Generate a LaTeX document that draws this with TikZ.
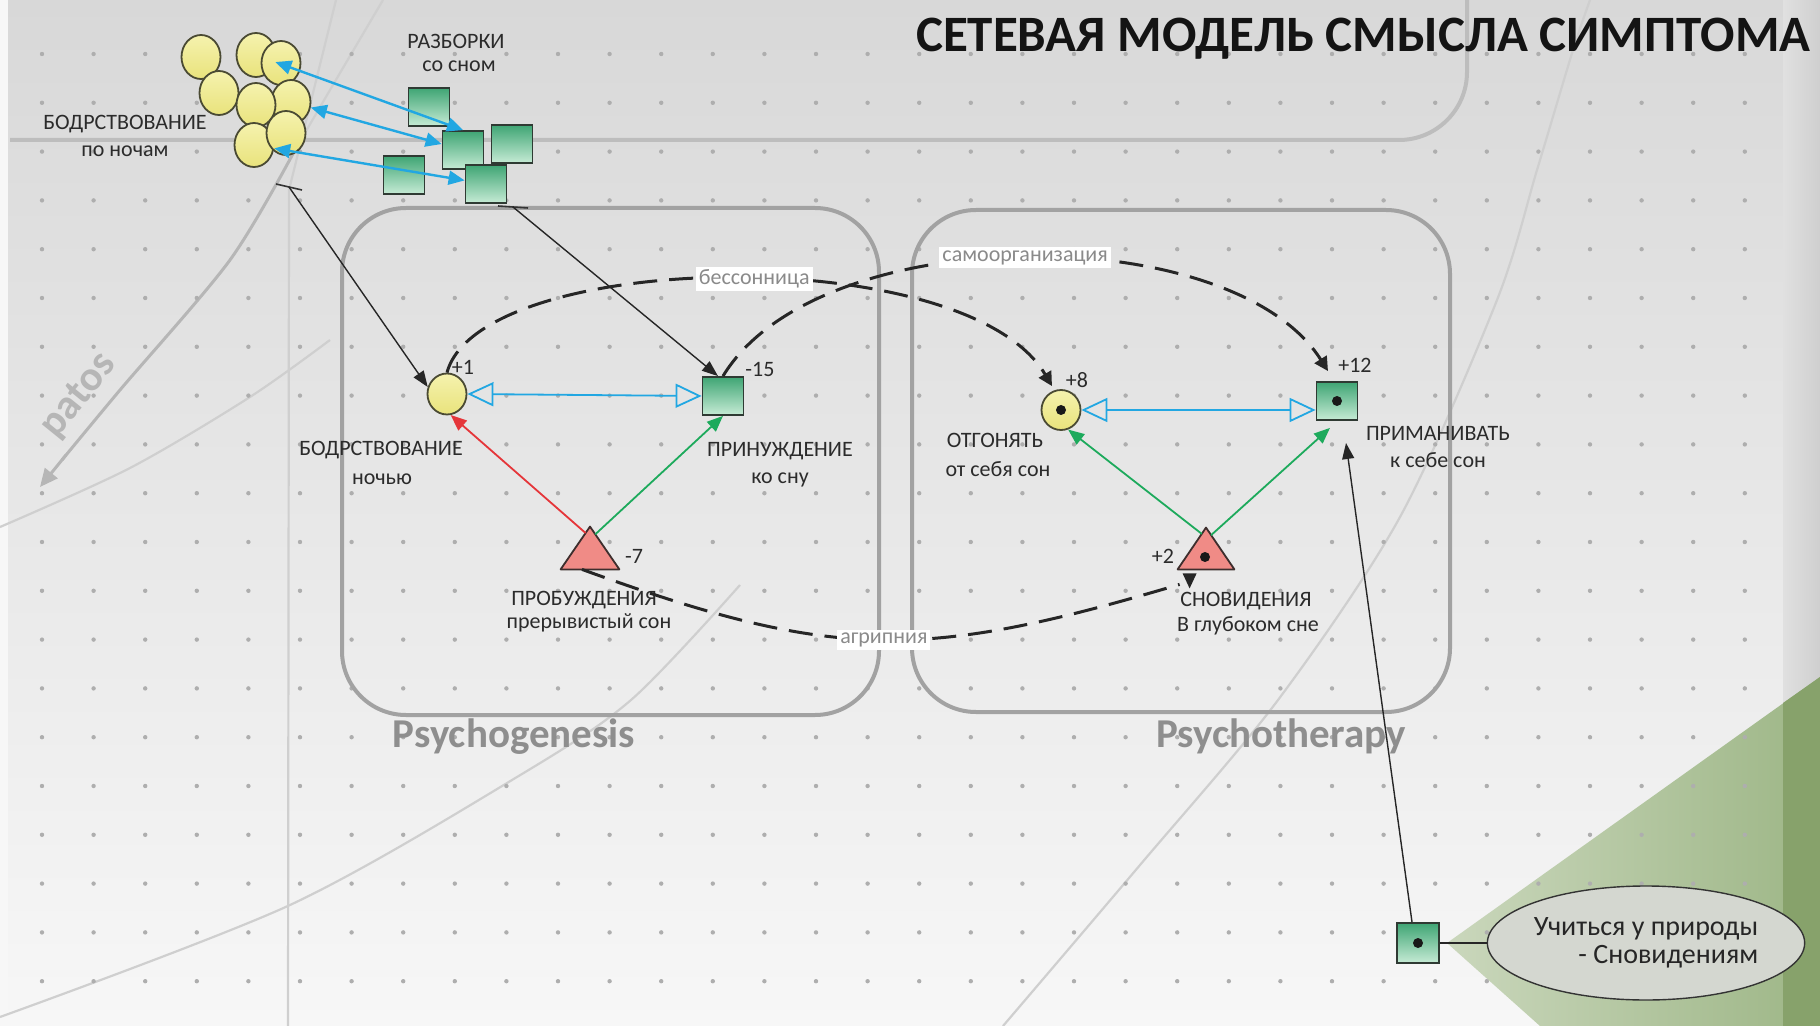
\documentclass[tikz,border=0pt]{standalone}
\usepackage{fontspec}
\setmainfont{Carlito}
\usetikzlibrary{arrows.meta,calc,shapes.geometric}
\definecolor{bgtop}{HTML}{D8D8D8}
\definecolor{bgmid}{HTML}{EBEBEB}
\definecolor{bgbot}{HTML}{F7F7F7}
\definecolor{dotc}{HTML}{AEAEAE}
\definecolor{faint}{HTML}{CFCFCF}
\definecolor{boxline}{HTML}{A2A2A2}
\definecolor{rectline}{HTML}{BDBDBD}
\definecolor{yelA}{HTML}{F5F2AE}
\definecolor{yelB}{HTML}{E9E37C}
\definecolor{circline}{HTML}{4A4A33}
\definecolor{grnA}{HTML}{3FA574}
\definecolor{grnB}{HTML}{C6EBD5}
\definecolor{sqline}{HTML}{2F3A33}
\definecolor{triF}{HTML}{F08B86}
\definecolor{triline}{HTML}{3E2E2D}
\definecolor{skyb}{HTML}{22A7E2}
\definecolor{redar}{HTML}{E5363A}
\definecolor{grnar}{HTML}{1DAA5C}
\definecolor{labc}{HTML}{2B2B2B}
\definecolor{dlab}{HTML}{8A8A8A}
\definecolor{psyc}{HTML}{8E8E8E}
\definecolor{grL}{HTML}{CAD7BC}
\definecolor{grR}{HTML}{9DB686}
\definecolor{grBand}{HTML}{87A26B}
\definecolor{bandL}{HTML}{E0E0E0}
\definecolor{bandR}{HTML}{CFCFCF}
\definecolor{ellF}{HTML}{D4D7D0}
\definecolor{patosc}{HTML}{B6B6B6}
\begin{document}
\begin{tikzpicture}[x=0.5pt,y=-0.5pt,
  lbl/.style={font=\fontsize{11}{12}\selectfont, text=labc, inner sep=0pt, anchor=base},
  ycirc/.style={ellipse, draw=circline, line width=0.9pt, top color=yelA, bottom color=yelB, minimum width=19.5pt, minimum height=21pt, inner sep=0pt},
  gsq/.style={rectangle, draw=sqline, line width=0.9pt, top color=grnA, bottom color=grnB, minimum width=20.5pt, minimum height=19pt, inner sep=0pt},
  trinode/.style={rectangle, inner sep=0pt, minimum width=29pt, minimum height=21pt},
  trishape/.style={draw=triline, line width=0.9pt, fill=triF, line join=round},
  cdot/.style={circle, fill=black!90, inner sep=0pt, minimum size=5pt},
  blkarrow/.style={draw=black!85, line width=0.7pt, -{Triangle[length=8pt,width=6pt]}},
  tickmark/.style={draw=black!80, line width=0.8pt},
  openarrow/.style={draw=skyb, line width=0.9pt, {Triangle[open,length=13pt,width=12pt]}-{Triangle[open,length=13pt,width=12pt]}},
  bluedbl/.style={draw=skyb, line width=1.2pt, {Triangle[length=8pt,width=7pt]}-{Triangle[length=8pt,width=7pt]}},
  redarrow/.style={draw=redar, line width=0.9pt, -{Triangle[length=8pt,width=6.5pt]}},
  grnarrow/.style={draw=grnar, line width=0.9pt, -{Triangle[length=8pt,width=6.5pt]}},
  dashbase/.style={draw=black!85, line width=1.5pt, dash pattern=on 12pt off 6pt},
  dashline/.style={dashbase, -{Triangle[length=7pt,width=7pt]}},
  dlabel/.style={fill=white, text=dlab, font=\fontsize{11}{12}\selectfont, inner sep=1.5pt},
  groupbox/.style={draw=boxline, line width=2pt, rounded corners=32pt, inner sep=0pt},
  grouplabel/.style={font=\bfseries\fontsize{20.5}{24}\selectfont, text=psyc, anchor=base, inner sep=0pt},
  faintline/.style={draw=faint, line width=1.1pt},
]
\useasboundingbox (0,0) rectangle (1820,1026);
% background
\shade[top color=bgtop, middle color=bgmid, bottom color=bgbot] (0,0) rectangle (1820,1026);
\fill[bgbot] (0,0) rectangle (8,1026);
\shade[left color=bandL, right color=bandR] (1783,0) rectangle (1820,703);
\shade[left color=grL, right color=grR] (1820,677) -- (1447,943) -- (1540,1026) -- (1820,1026) -- cycle;
\fill[grBand] (1783,703) -- (1820,677) -- (1820,1026) -- (1783,1026) -- cycle;
% faint decorative lines
\draw[faintline] plot[smooth] coordinates {(1590,0) (1573,50) (1537,170) (1497,300) (1400,517) (1278,700) (1140,865) (1003,1026)};
\draw[faintline] plot[smooth] coordinates {(0,1017) (290,905) (517,777) (631,700) (740,585)};
\draw[faintline] plot[smooth] coordinates {(0,527) (130,468) (250,397) (330,340)};
\draw[faintline] (336,0) -- (289,190) -- (288,1026);
\draw[faintline] plot[smooth] coordinates {(383,0) (330,90) (295,150)};
\draw[draw=patosc, line width=1.5pt] plot[smooth] coordinates {(295,150) (230,260) (120,390) (62,460)};
\draw[draw=patosc, line width=1.5pt, -{Triangle[length=9pt,width=8pt]}] (66,455) -- (40,487);
\node[rotate=51, font=\bfseries\fontsize{21}{24}\selectfont, text=patosc] (patos) at (79,396) {patos};
% dot grid
\foreach \i in {0,...,33}{\foreach \j in {0,...,19}{\fill[dotc] (42+51.6*\i,54+48.8*\j) circle[radius=1.1pt];}}
% frames
\draw[draw=rectline, line width=2pt, rounded corners=34pt] (10,140) -- (1467,140) -- (1467,-20);
\node[groupbox, minimum width=268.5pt, minimum height=253.5pt] (boxL) at (610.5,461.5) {};
\node[groupbox, minimum width=269pt, minimum height=251pt] (boxR) at (1181,461) {};
\node[grouplabel] (psyg) at (514,747) {Psychogenesis};
\node[grouplabel] (psyt) at (1281,747) {Psychotherapy};
% title
\node[anchor=base east, font=\bfseries\fontsize{25.5}{28}\selectfont, text=black!92, inner sep=0pt] (title) at (1811,52) {СЕТЕВАЯ МОДЕЛЬ СМЫСЛА СИМПТОМА};
% cluster
\foreach \n/\x/\y in {c1/201/57, c2/256/55, c3/281/63, c4/219/93, c6/291/102, c5/256/105, c7/254/145, c8/286/133}
  \node[ycirc, minimum height=22pt] (\n) at (\x,\y) {};
\foreach \n/\x/\y in {s1/429/107, s2/463/150, s3/512/144, s4/404/175, s5/486/184}
  \node[gsq, minimum height=19pt] (\n) at (\x,\y) {};
\node[lbl] (razb) at (456,49) {РАЗБОРКИ};
\node[lbl] (razb2) at (459,72) {со сном};
\node[lbl] (bodr1) at (125,130) {БОДРСТВОВАНИЕ};
\node[lbl] (bodr2) at (125,157) {по ночам};
\draw[bluedbl] (c2) -- (s2.north);
\draw[bluedbl] (c6) -- (s2);
\draw[bluedbl] (c7) -- (s5);
\coordinate (t1) at (289,187);
\coordinate (t2) at (513,207);
\draw[tickmark] ($(t1)+(-13,-3)$) -- ($(t1)+(13,3)$);
\draw[tickmark] ($(t2)+(-15,-1)$) -- ($(t2)+(15,1)$);
% main nodes
\node[ycirc, minimum height=20.5pt] (A) at (447,394) {};
\node[gsq] (B) at (723,396) {};
\node[trinode] (C) at (590,548) {};
\draw[trishape] (C.south west) -- (C.south east) -- (C.north) -- cycle;
\node[ycirc, minimum height=20pt] (D) at (1061,410) {};
\node[cdot] (Dd) at (D.center) {};
\node[gsq] (E) at (1337,401) {};
\node[cdot] (Ed) at (E.center) {};
\node[trinode, minimum width=28pt, minimum height=20.5pt] (F) at (1206,548.5) {};
\draw[trishape] (F.south west) -- (F.south east) -- (F.north) -- cycle;
\node[cdot] (Fd) at (1205,557) {};
\node[gsq, minimum width=21pt, minimum height=20pt] (G) at (1418,943) {};
\node[cdot] (Gd) at (G.center) {};
\node[ellipse, draw=black!80, line width=0.7pt, fill=ellF, minimum width=138pt, minimum height=57pt, inner sep=0pt, align=right, font=\fontsize{14}{14}\selectfont, text=black!85] (H) at (1646,943) {Учиться у природы\\- Сновидениям};
% value labels
\node[lbl] (vA) at (463,375) {+1};
\node[lbl] (vB) at (760,377) {-15};
\node[lbl] (vC) at (634,563) {-7};
\node[lbl] (vD) at (1077,388) {+8};
\node[lbl] (vE) at (1355,373) {+12};
\node[lbl] (vF) at (1163,563) {+2};
% text labels
\node[lbl] (lA1) at (381,456) {БОДРСТВОВАНИЕ};
\node[lbl] (lA2) at (382,484) {ночью};
\node[lbl] (lB1) at (780,457) {ПРИНУЖДЕНИЕ};
\node[lbl] (lB2) at (780,483) {ко сну};
\node[lbl] (lC1) at (584,605) {ПРОБУЖДЕНИЯ};
\node[lbl] (lC2) at (589,628) {прерывистый сон};
\node[lbl] (lD1) at (995,448) {ОТГОНЯТЬ};
\node[lbl] (lD2) at (998,476) {от себя сон};
\node[lbl] (lE1) at (1438,441) {ПРИМАНИВАТЬ};
\node[lbl] (lE2) at (1438,467) {к себе сон};
\node[lbl] (lF1) at (1246,606) {СНОВИДЕНИЯ};
\node[lbl] (lF2) at (1248,631) {В глубоком сне};
% connectors
\draw[blkarrow] (t1) -- (A.160);
\draw[blkarrow] (t2) -- ($(B.north)+(-5,0)$);
\draw[openarrow] (A.east) -- (B.west);
\draw[openarrow] (D.east) -- (D.east -| E.west);
\draw[redarrow] ($(C.north)!0.15!(C.south west)$) -- (A.-80);
\draw[grnarrow] ($(C.north)!0.18!(C.south east)$) -- (B.south);
\draw[grnarrow] ($(F.north)!0.15!(F.south west)$) -- (D.-70);
\draw[grnarrow] ($(F.north)!0.18!(F.south east)$) -- ($(E.south)+(-7,7)$);
\draw[draw=black!85, line width=0.8pt] (G) -- (H);
\coordinate (Ein) at (1346,443);
\draw[blkarrow] ($(G.north)+(-6,0)$) -- (Ein);
\draw[dashline] (A.north) .. controls (480,250) and (966,240) .. ($(D.north)+(-9,-3)$) node[dlabel, pos=0.53] (lbl1) {бессонница};
\draw[dashline] (B.north) .. controls (818,219) and (1232,219) .. ($(E.north)+(-9,-10)$) node[dlabel, pos=0.5] (lbl2) {самоорганизация};
\draw[dashbase] ($(C.south)+(-8,0)$) .. controls (834,661) and (922,661) .. ($(F.south west)+(2,15)$) node[dlabel, pos=0.51] (lbl3) {агрипния};
\fill[black!85] ($(F.south west)+(5,4)$) -- ++(14,0) -- ++(-7,15) -- cycle;
\end{tikzpicture}
\end{document}
